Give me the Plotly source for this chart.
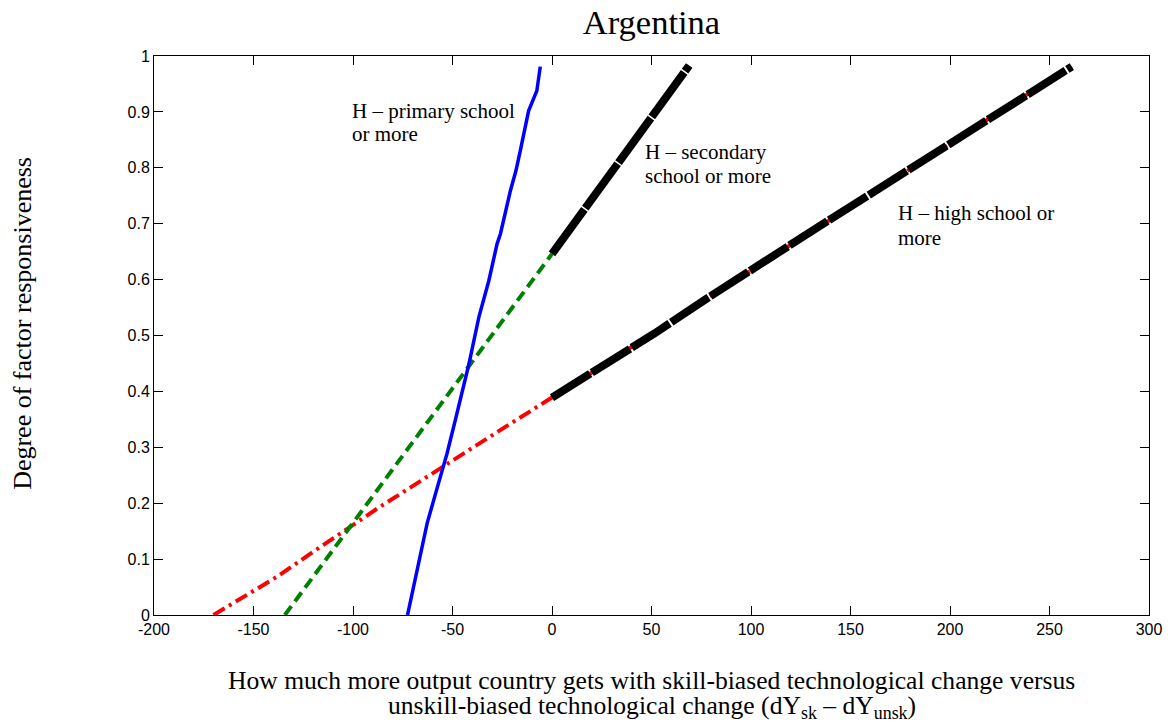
import plotly.graph_objects as go

# H - primary school or more
primary_x = [-72.6, -70.5, -66.8, -62.75, -57.5, -52.75, -48.5, -45.9, -41.75, -36.75,
             -35.4, -31.75, -27.6, -25.9, -20.9, -18.1, -15.9, -11.75, -7.6, -5.9]
primary_y = [0.0, 0.035, 0.095, 0.164, 0.23, 0.289, 0.35, 0.39, 0.449, 0.533,
             0.551, 0.598, 0.664, 0.682, 0.759, 0.795, 0.831, 0.902, 0.938, 0.981]

# H - secondary school or more (negative part, then positive part)
secondary_neg_x = [-134.25, -101.75, -46.75, 0.0]
secondary_neg_y = [0.0, 0.157, 0.42, 0.646]
secondary_pos_x = [0.0, 29.3, 49.95, 68.95]
secondary_pos_y = [0.646, 0.789, 0.8905, 0.983]

# H - high school or more (negative part, then positive part)
high_neg_x = [-170.1, -155.0, -138.4, -120.0, -101.75, -88.0, -73.4, -50.0, -25.0]
high_neg_y = [0.0, 0.033, 0.068, 0.113, 0.157, 0.19, 0.223, 0.277, 0.333]
high_pos_x = [0.0, 12.05, 37.9, 51.7, 77.55, 95.65, 108.1, 134.45, 148.25, 165.5,
              192.2, 223.25, 249.95, 261.2]
high_pos_y = [0.389, 0.4154, 0.475, 0.5041, 0.5656, 0.6055, 0.6354, 0.6956, 0.7266,
              0.7653, 0.825, 0.8966, 0.956, 0.981]

x_ticks = [-200, -150, -100, -50, 0, 50, 100, 150, 200, 250, 300]
y_ticks = [0, 0.1, 0.2, 0.3, 0.4, 0.5, 0.6, 0.7, 0.8, 0.9, 1]
y_tick_labels = ["0", "0.1", "0.2", "0.3", "0.4", "0.5", "0.6", "0.7", "0.8", "0.9", "1"]

SERIF = "Liberation Serif, Times New Roman, serif"
SANS = "Liberation Sans, Arial, sans-serif"

fig = go.Figure()

fig.add_trace(go.Scatter(x=high_neg_x + high_pos_x, y=high_neg_y + high_pos_y,
                         mode="lines", line=dict(color="#ff0000", width=4,
                                                 dash="13px,5px,3px,5px")))
fig.add_trace(go.Scatter(x=secondary_neg_x, y=secondary_neg_y, mode="lines",
                         line=dict(color="#008000", width=4, dash="11px,6px")))
fig.add_trace(go.Scatter(x=primary_x, y=primary_y, mode="lines",
                         line=dict(color="#0000ff", width=3.5)))
fig.add_trace(go.Scatter(x=secondary_pos_x, y=secondary_pos_y, mode="lines",
                         line=dict(color="#000000", width=8, dash="55px,1.5px")))
fig.add_trace(go.Scatter(x=high_pos_x, y=high_pos_y, mode="lines",
                         line=dict(color="#000000", width=8, dash="45px,2px")))

axis_common = dict(showline=True, linecolor="black", linewidth=1, mirror="ticks",
                   ticks="inside", ticklen=9, tickcolor="black", tickwidth=1,
                   showgrid=False, zeroline=False,
                   tickfont=dict(family=SANS, size=16, color="black"))

fig.update_xaxes(range=[-200, 300], tickvals=x_ticks,
                 ticktext=[str(v) for v in x_ticks], **axis_common)
fig.update_yaxes(range=[0, 1], tickvals=y_ticks, ticktext=y_tick_labels, **axis_common)

annotations = []
# curve labels
labels = [
    (-101.4, 0.9025, "H – primary school"),
    (-101.4, 0.8596, "or more"),
    (45.75, 0.829, "H – secondary"),
    (45.75, 0.786, "school or more"),
    (172.9, 0.720, "H – high school or"),
    (172.9, 0.675, "more"),
]
for lx, ly, txt in labels:
    annotations.append(dict(x=lx, y=ly, xref="x", yref="y", text=txt, showarrow=False,
                            xanchor="left", yanchor="middle",
                            font=dict(family=SERIF, size=21, color="black")))

# axis titles
annotations.append(dict(x=-0.132, y=0.522, xref="paper", yref="paper",
                        text="Degree of factor responsiveness", showarrow=False,
                        textangle=-90, xanchor="center", yanchor="middle",
                        font=dict(family=SERIF, size=26, color="black")))
annotations.append(dict(x=0.5, y=-0.1163, xref="paper", yref="paper",
                        text="How much more output country gets with skill-biased "
                             "technological change versus",
                        showarrow=False, xanchor="center", yanchor="middle",
                        font=dict(family=SERIF, size=25.6, color="black")))
annotations.append(dict(x=0.5, y=-0.165, xref="paper", yref="paper",
                        text="unskill-biased technological change (dY<sub>sk</sub> – "
                             "dY<sub>unsk</sub>)",
                        showarrow=False, xanchor="center", yanchor="middle",
                        font=dict(family=SERIF, size=25.6, color="black")))

fig.update_layout(
    width=1174, height=727,
    margin=dict(l=154, r=20, t=56, b=112),
    paper_bgcolor="white", plot_bgcolor="white",
    showlegend=False,
    title=dict(text="Argentina", x=0.5, xref="paper", xanchor="center",
               y=1 - 22 / 727, yref="container", yanchor="middle",
               font=dict(family=SERIF, size=34.5, color="black")),
    annotations=annotations,
)

fig.write_html("out.html")
